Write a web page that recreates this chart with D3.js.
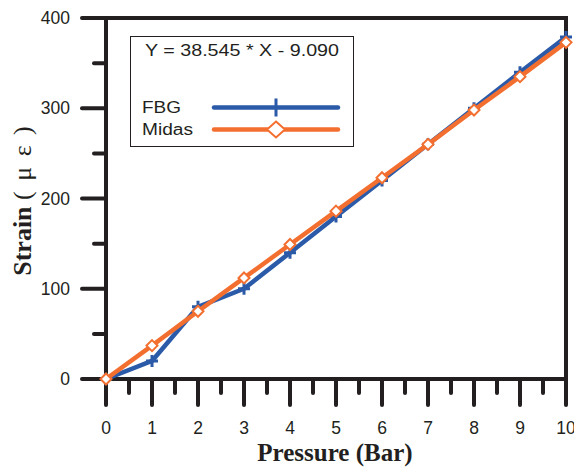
<!DOCTYPE html>
<html lang="en">
<head>
  <meta charset="UTF-8">
  <title>Strain vs Pressure</title>
  <script src="https://d3js.org/d3.v7.min.js"></script>
  <style>
    body { margin: 0; background: #fff; }
    svg { display: block; }
    .tick-label { font-family: 'Liberation Sans', Arial, sans-serif; font-size: 17.5px; fill: #231f20; }
    .axis-title { font-family: 'Liberation Serif', 'Times New Roman', serif; font-size: 25px; font-weight: bold; fill: #231f20; }
    .legend-text { font-family: 'Liberation Sans', Arial, sans-serif; font-size: 16px; fill: #231f20; }
  </style>
</head>
<body>
<svg id="chart" width="574" height="467"></svg>
<script>
  const pressure = [0, 1, 2, 3, 4, 5, 6, 7, 8, 9, 10];
  const fbg = [0, 20, 80, 100, 140, 180, 220, 260, 300, 340, 379];
  const midas = [0, 37, 75, 112, 149, 186, 223, 260, 298, 335, 373];
  const xTicks = [0, 1, 2, 3, 4, 5, 6, 7, 8, 9, 10];
  const yTicks = [0, 100, 200, 300, 400];
  const equation = "Y = 38.545 * X - 9.090";

  const blue = "#2b5aa8", orange = "#f36f30", ink = "#231f20";

  const svg = d3.select("#chart");
  const x = d3.scaleLinear().domain([0, 10]).range([106, 566]);
  const y = d3.scaleLinear().domain([0, 400]).range([379, 18]);

  // frame
  svg.append("rect")
    .attr("x", x(0)).attr("y", y(400))
    .attr("width", x(10) - x(0)).attr("height", y(0) - y(400))
    .attr("fill", "none").attr("stroke", ink).attr("stroke-width", 4);

  // x ticks
  const xMinor = d3.range(0.5, 10, 1);
  svg.selectAll(".xmaj").data(xTicks).enter().append("line")
    .attr("x1", d => x(d)).attr("x2", d => x(d))
    .attr("y1", y(0)).attr("y2", y(0) + 26)
    .attr("stroke", ink).attr("stroke-width", 4).attr("stroke-linecap", "round");
  svg.selectAll(".xmin").data(xMinor).enter().append("line")
    .attr("x1", d => x(d)).attr("x2", d => x(d))
    .attr("y1", y(0)).attr("y2", y(0) + 14)
    .attr("stroke", ink).attr("stroke-width", 4).attr("stroke-linecap", "round");
  svg.selectAll(".xlab").data(xTicks).enter().append("text")
    .attr("class", "tick-label")
    .attr("x", d => x(d)).attr("y", 434)
    .attr("text-anchor", "middle").text(d => d);

  // y ticks
  const yMinor = [50, 150, 250, 350];
  svg.selectAll(".ymaj").data(yTicks).enter().append("line")
    .attr("x1", x(0) - 24).attr("x2", x(0))
    .attr("y1", d => y(d)).attr("y2", d => y(d))
    .attr("stroke", ink).attr("stroke-width", 4).attr("stroke-linecap", "round");
  svg.selectAll(".ymin").data(yMinor).enter().append("line")
    .attr("x1", x(0) - 12).attr("x2", x(0))
    .attr("y1", d => y(d)).attr("y2", d => y(d))
    .attr("stroke", ink).attr("stroke-width", 4).attr("stroke-linecap", "round");
  svg.selectAll(".ylab").data(yTicks).enter().append("text")
    .attr("class", "tick-label")
    .attr("x", 70).attr("y", d => y(d) + 6)
    .attr("text-anchor", "end").text(d => d);

  // axis titles
  svg.append("text").attr("class", "axis-title")
    .attr("x", 335).attr("y", 461).attr("text-anchor", "middle")
    .text("Pressure (Bar)");
  const yt = svg.append("text").attr("class", "axis-title")
    .attr("transform", "translate(31,200) rotate(-90)")
    .attr("text-anchor", "middle").style("font-size", "26px");
  yt.append("tspan").text("Strain ");
  yt.append("tspan").attr("font-weight", "normal").attr("letter-spacing", 2).text("( μ ε )");

  const line = d3.line().x((d, i) => x(pressure[i])).y(d => y(d));

  function plus(g, cx, cy, r) {
    g.append("path")
      .attr("d", `M${cx - r},${cy}H${cx + r}M${cx},${cy - r}V${cy + r}`)
      .attr("stroke", blue).attr("stroke-width", 3).attr("fill", "none");
  }
  function diamond(g, cx, cy, rx, ry) {
    g.append("path")
      .attr("d", `M${cx},${cy - ry}L${cx + rx},${cy}L${cx},${cy + ry}L${cx - rx},${cy}Z`)
      .attr("stroke", orange).attr("stroke-width", 2).attr("fill", "#fff");
  }

  // FBG
  svg.append("path").datum(fbg).attr("d", line)
    .attr("fill", "none").attr("stroke", blue).attr("stroke-width", 4.5)
    .attr("stroke-linejoin", "round");
  const gF = svg.append("g");
  fbg.forEach((v, i) => plus(gF, x(pressure[i]), y(v), 6));

  // Midas
  svg.append("path").datum(midas).attr("d", line)
    .attr("fill", "none").attr("stroke", orange).attr("stroke-width", 4.5)
    .attr("stroke-linejoin", "round");
  const gM = svg.append("g");
  midas.forEach((v, i) => diamond(gM, x(pressure[i]), y(v), 5.5, 5.5));

  // legend
  const lg = svg.append("g");
  lg.append("rect").attr("x", 130.5).attr("y", 36.5).attr("width", 223).attr("height", 110)
    .attr("fill", "#fff").attr("stroke", ink).attr("stroke-width", 1);
  lg.append("text").attr("class", "legend-text").attr("x", 145).attr("y", 56)
    .attr("textLength", 194).attr("lengthAdjust", "spacingAndGlyphs").text(equation);
  lg.append("text").attr("class", "legend-text").attr("x", 142).attr("y", 113)
    .attr("textLength", 39).attr("lengthAdjust", "spacingAndGlyphs").text("FBG");
  lg.append("text").attr("class", "legend-text").attr("x", 142).attr("y", 135)
    .attr("textLength", 51).attr("lengthAdjust", "spacingAndGlyphs").text("Midas");
  lg.append("line").attr("x1", 214).attr("x2", 338).attr("y1", 107.5).attr("y2", 107.5)
    .attr("stroke", blue).attr("stroke-width", 4.5).attr("stroke-linecap", "round");
  plus(lg, 276, 107.5, 9);
  lg.append("line").attr("x1", 214).attr("x2", 338).attr("y1", 129.5).attr("y2", 129.5)
    .attr("stroke", orange).attr("stroke-width", 4.5).attr("stroke-linecap", "round");
  diamond(lg, 276, 129.5, 9, 8);
</script>
</body>
</html>
